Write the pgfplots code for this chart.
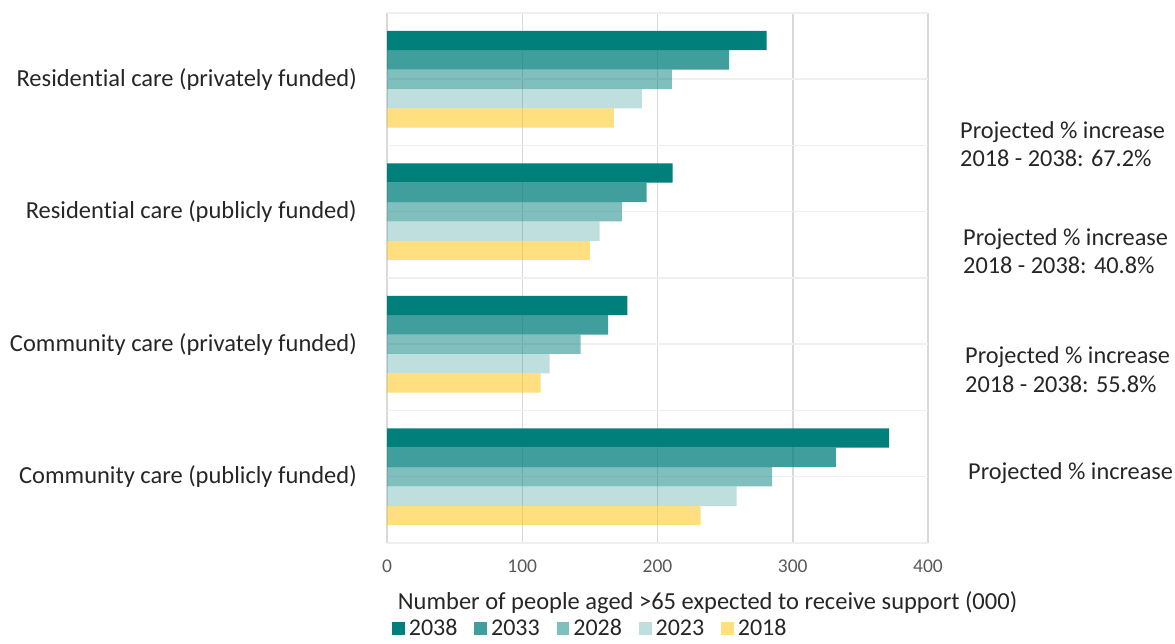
\documentclass[border=0pt]{standalone}
\usepackage{fontspec}
\setmainfont{Carlito}[Ligatures=NoCommon]
\usepackage{pgfplots}
\pgfplotsset{compat=1.18}
\definecolor{tealc}{HTML}{007F7B}
\definecolor{gold}{HTML}{FFC000}
\definecolor{txt}{HTML}{262626}
\definecolor{tickc}{HTML}{595959}
\definecolor{vgrid}{HTML}{D9D9D9}
\definecolor{hgrid}{HTML}{EFEFEF}
\pgfplotsset{sq legend/.style={legend image code/.code={\fill[##1] (0pt,-6.3pt) rectangle (12.6pt,6.3pt);}}}
\begin{document}
\begin{tikzpicture}[x=1pt,y=1pt]
\useasboundingbox (0,0) rectangle (1175,644);
\begin{axis}[
  at={(387pt,101pt)}, anchor=south west,
  scale only axis, width=541pt, height=530pt,
  xmin=0, xmax=400, ymin=-0.5, ymax=3.5,
  xtick={0,100,200,300,400},
  ytick={0,1,2,3},
  yticklabels={Community care (publicly funded), Community care (privately funded), Residential care (publicly funded), Residential care (privately funded)},
  xmajorgrids, major grid style={draw=vgrid, line width=1.5pt},
  extra y ticks={-0.5,0,0.5,1,1.5,2,2.5,3,3.5},
  extra y tick labels={},
  extra y tick style={grid=major, major grid style={draw=hgrid, line width=1.5pt}},
  axis line style={draw=none},
  major tick length=0pt,
  tick style={draw=none},
  /pgf/number format/assume math mode=true,
  xticklabel style={font=\fontsize{19.5}{23}\selectfont, text=tickc, inner sep=0pt, anchor=north, yshift=-17pt},
  yticklabel style={font=\fontsize{24.5}{28}\selectfont, text=txt, inner sep=0pt, anchor=east, xshift=-30pt},
  xlabel={Number of people aged >65 expected to receive support (000)},
  xlabel style={font=\fontsize{24.5}{28}\selectfont, text=txt, at={(rel axis cs:0.5925,0)}, anchor=center, yshift=-60pt},
  legend columns=5,
  legend style={at={(rel axis cs:0.375,-0.161)}, anchor=center, draw=none, fill=none,
    font=\fontsize{24}{28}\selectfont, text=txt, nodes={inner xsep=1pt, inner ysep=0pt},
    /tikz/every odd column/.append style={column sep=3pt},
    /tikz/every even column/.append style={column sep=16pt}},
]
\addplot[xbar, bar width=0.146, bar shift=0.292, fill=tealc, draw=none, sq legend]
  coordinates {(371.3,0) (177.8,1) (211.1,2) (280.7,3)};
\addlegendentry{2038}
\addplot[xbar, bar width=0.146, bar shift=0.146, fill=tealc, fill opacity=0.75, draw=none, sq legend]
  coordinates {(331.9,0) (163.5,1) (192.0,2) (253.0,3)};
\addlegendentry{2033}
\addplot[xbar, bar width=0.146, bar shift=0, fill=tealc, fill opacity=0.5, draw=none, sq legend]
  coordinates {(284.7,0) (143.1,1) (173.7,2) (210.7,3)};
\addlegendentry{2028}
\addplot[xbar, bar width=0.146, bar shift=-0.146, fill=tealc, fill opacity=0.25, draw=none, sq legend]
  coordinates {(258.5,0) (120.2,1) (157.2,2) (188.4,3)};
\addlegendentry{2023}
\addplot[xbar, bar width=0.146, bar shift=-0.292, fill=gold, fill opacity=0.5, draw=none, sq legend]
  coordinates {(231.8,0) (113.5,1) (150.0,2) (167.8,3)};
\addlegendentry{2018}
\end{axis}
\begin{scope}[every node/.style={anchor=west, align=left, inner sep=0pt, text=txt, font=\fontsize{24.3}{28.5}\selectfont}]
\node at (960,500) {Projected \% increase\\2018 - 2038: 67.2\%};
\node at (963,393) {Projected \% increase\\2018 - 2038: 40.8\%};
\node at (965,274.5) {Projected \% increase\\2018 - 2038: 55.8\%};
\node at (968,171) {Projected \% increase};
\end{scope}
\end{tikzpicture}
\end{document}
